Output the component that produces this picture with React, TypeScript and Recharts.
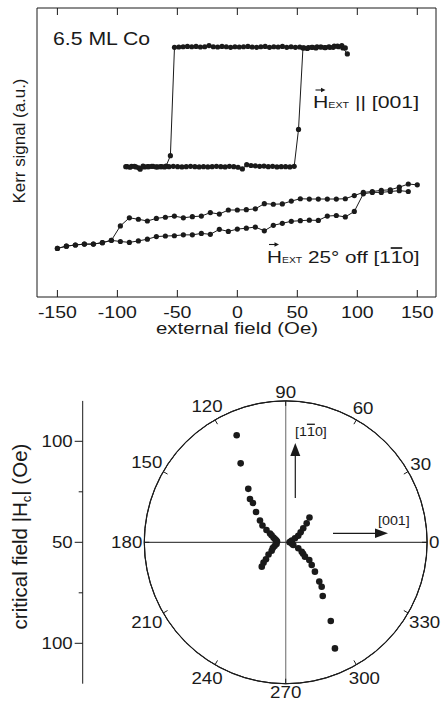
import React from "react";
import {
  ScatterChart,
  Scatter,
  XAxis,
  YAxis,
  LineChart,
  RadarChart,
  Radar,
  PolarGrid,
  PolarAngleAxis,
  PolarRadiusAxis,
} from "recharts";

const FONT = '"Liberation Sans", Arial, Helvetica, sans-serif';
const INK = "#1a1a1a";

// ---- top panel: Kerr loops (field in Oe, Kerr signal in arbitrary units) ----
const fieldTicks = [-150, -100, -50, 0, 50, 100, 150];

// H || [001], field swept down
const squareDown: [number, number][] = [
  [91.7, 8.41], [88, 8.62], [84.4, 8.66], [80.8, 8.68], [77.2, 8.64], [73.6, 8.63],
  [70, 8.65], [66.4, 8.66], [62.8, 8.64], [59.2, 8.63], [55.6, 8.62], [52, 8.65],
  [48.4, 8.64], [44.8, 8.66], [41.2, 8.64], [37.6, 8.67], [34, 8.65], [30.4, 8.66],
  [26.8, 8.64], [23.2, 8.67], [19.6, 8.66], [16, 8.64], [12.4, 8.65], [8.8, 8.67],
  [5.2, 8.66], [1.6, 8.65], [-2, 8.66], [-5.6, 8.64], [-9.2, 8.66], [-12.8, 8.67],
  [-16.4, 8.65], [-20, 8.66], [-23.6, 8.7], [-27.2, 8.66], [-30.8, 8.65], [-34.4, 8.67],
  [-38, 8.66], [-41.6, 8.67], [-45.2, 8.66], [-48.8, 8.65], [-52.4, 8.64], [-55.8, 4.89],
  [-59.4, 4.53], [-63, 4.51], [-66.6, 4.5], [-70.2, 4.52], [-73.8, 4.51], [-77.4, 4.5],
  [-81, 4.42], [-84.6, 4.5], [-88.2, 4.52], [-91.8, 4.51],
];

// H || [001], field swept up
const squareUp: [number, number][] = [
  [-93, 4.51], [-89.4, 4.49], [-85.8, 4.52], [-82.2, 4.47], [-78.6, 4.53], [-75, 4.51],
  [-71.4, 4.52], [-67.8, 4.5], [-64.2, 4.51], [-60.6, 4.5], [-57, 4.51], [-53.4, 4.52],
  [-49.8, 4.51], [-46.2, 4.5], [-42.6, 4.51], [-39, 4.52], [-35.4, 4.51], [-31.8, 4.5],
  [-28.2, 4.51], [-24.6, 4.5], [-21, 4.51], [-17.4, 4.52], [-13.8, 4.51], [-10.2, 4.5],
  [-6.6, 4.52], [-3, 4.51], [0.6, 4.49], [4.2, 4.43], [7.8, 4.58], [11.4, 4.55],
  [15, 4.54], [18.6, 4.52], [22.2, 4.53], [25.8, 4.51], [29.4, 4.52], [33, 4.5],
  [36.6, 4.51], [40.2, 4.51], [43.8, 4.5], [47.4, 4.52], [51, 5.8], [54.7, 8.62],
  [58.3, 8.6], [61.9, 8.64], [65.5, 8.62], [69.1, 8.65], [72.7, 8.63], [76.3, 8.66],
  [79.9, 8.64], [83.5, 8.68], [87.1, 8.7], [90, 8.62],
];

// H 25 deg off [1-10], field swept down
const tiltDown: [number, number][] = [
  [150, 3.88], [142.5, 3.91], [135, 3.8], [127.5, 3.71], [120, 3.69], [112.5, 3.65],
  [105, 3.62], [97.5, 3.51], [90, 3.4], [82.5, 3.39], [75, 3.39], [67.5, 3.39],
  [60, 3.39], [52.5, 3.4], [45, 3.32], [37.5, 3.22], [30, 3.21], [22.5, 3.23],
  [15, 3.05], [7.5, 3.02], [0, 3.01], [-7.5, 3.01], [-15, 2.87], [-22.5, 2.92],
  [-30, 2.8], [-37.5, 2.78], [-45, 2.74], [-52.5, 2.8], [-60, 2.76], [-67.5, 2.72],
  [-75, 2.63], [-82.5, 2.69], [-90, 2.74], [-97.5, 2.46], [-105, 1.96], [-112.5, 1.88],
  [-120, 1.83], [-127.5, 1.83], [-135, 1.8], [-142.5, 1.76], [-150, 1.68],
];

// H 25 deg off [1-10], field swept up
const tiltUp: [number, number][] = [
  [-150, 1.68], [-142.5, 1.76], [-135, 1.8], [-127.5, 1.83], [-120, 1.83], [-112.5, 1.88],
  [-105, 1.96], [-97.5, 1.92], [-90, 1.89], [-82.5, 1.94], [-75, 2.0], [-67.5, 2.09],
  [-60, 2.11], [-52.5, 2.12], [-45, 2.15], [-37.5, 2.15], [-30, 2.2], [-22.5, 2.17],
  [-15, 2.34], [-7.5, 2.27], [0, 2.35], [7.5, 2.38], [15, 2.42], [22.5, 2.29],
  [30, 2.48], [37.5, 2.55], [45, 2.62], [52.5, 2.64], [60, 2.66], [67.5, 2.65],
  [75, 2.8], [82.5, 2.82], [90, 2.77], [97.5, 2.96], [105, 3.57], [112.5, 3.62],
  [120, 3.62], [127.5, 3.65], [135, 3.68], [142.5, 3.65],
];

// ---- bottom panel: critical field vs. field angle (deg, Oe) ----
const hcPoints: [number, number][] = [
  [114.6, 108.3], [119.7, 95.0], [125.0, 82.3], [129.5, 77.8], [129.8, 75.3],
  [134.4, 71.0], [139.7, 66.7], [144.1, 64.2], [147.4, 61.3], [150.7, 58.9],
  [153.5, 57.8], [158.5, 56.5], [163.0, 55.6], [168.0, 54.8], [174.7, 54.3],
  [190.0, 54.6], [198.3, 55.8], [204.0, 57.0], [211.0, 58.1], [215.3, 60.4],
  [220.8, 62.9], [222.6, 64.9], [225.5, 66.9],
  [0.0, 51.9], [8.0, 52.5], [16.0, 53.2], [23.3, 55.0], [27.6, 57.0], [33.7, 58.9],
  [38.5, 61.1], [42.1, 64.0], [46.2, 67.0],
  [347.0, 53.2], [340.4, 54.0], [334.5, 56.9], [329.6, 59.2], [326.8, 60.3],
  [323.3, 61.9], [323.1, 64.6], [318.9, 67.1], [314.9, 70.5], [310.5, 75.6],
  [309.0, 78.3], [304.6, 82.3], [299.8, 94.9], [294.9, 107.9],
];
const angleTicks = [0, 30, 60, 90, 120, 150, 180, 210, 240, 270, 300, 330];
// left scale: offset from the 50 Oe centre
const hcTicks = [-50, -25, 0, 25, 50];
const hcTickLabels = ["100", "", "50", "", "100"];

const toRows = (pts: [number, number][]) => pts.map(([h, kerr]) => ({ h, kerr }));
const polarRows = hcPoints.map(([angle, hc]) => ({ angle, hc }));

// polar geometry (inside the bottom chart)
const PCX = 285.7;
const PCY = 187.3;
const PR = 141.4;

const WText = ({ x, y, size = 16, sx = 1.2, anchor = "middle", rotate = 0, base, length, children }: any) => (
  <text
    transform={`translate(${x},${y}) rotate(${rotate}) scale(${sx},1)`}
    x={0}
    y={0}
    fontSize={size}
    fontFamily={FONT}
    textAnchor={anchor}
    dominantBaseline={base}
    textLength={length}
    lengthAdjust={length ? "spacingAndGlyphs" : undefined}
    fill={INK}
  >
    {children}
  </text>
);

const FieldTick = ({ x, y, payload }: any) => (
  <g>
    <line x1={x} x2={x} y1={y} y2={y - 7} stroke={INK} />
    <WText x={x} y={y + 20.5} size={16} sx={1.22}>
      {payload.value}
    </WText>
  </g>
);

const TopTick = ({ x, y }: any) => <line x1={x} x2={x} y1={y} y2={y + 7} stroke={INK} />;

const VecArrow = ({ x, y, w }: any) => (
  <g>
    <line x1={x} x2={x + w - 3} y1={y} y2={y} stroke={INK} strokeWidth={1.1} />
    <path d={`M${x + w},${y} L${x + w - 4.5},${y - 2.2} L${x + w - 4.5},${y + 2.2} Z`} fill={INK} />
  </g>
);

const LoopDot = (p: any) => <circle cx={p.cx} cy={p.cy} r={2.6} fill={INK} />;

function KerrLoops() {
  return (
    <ScatterChart width={444} height={345} margin={{ top: 7, right: 7, bottom: 8, left: 0 }}>
      <XAxis
        xAxisId="b"
        type="number"
        dataKey="h"
        domain={[-167, 165.6]}
        ticks={fieldTicks}
        interval={0}
        height={40}
        tickSize={0}
        tickMargin={0}
        tickLine={false}
        axisLine={{ stroke: INK }}
        tick={FieldTick}
        allowDataOverflow
      />
      <XAxis
        xAxisId="t"
        orientation="top"
        type="number"
        dataKey="h"
        domain={[-167, 165.6]}
        ticks={fieldTicks}
        interval={0}
        height={1}
        tickSize={0}
        tickMargin={0}
        tickLine={false}
        axisLine={{ stroke: INK }}
        tick={TopTick}
        allowDataOverflow
      />
      <YAxis yAxisId="l" type="number" dataKey="kerr" domain={[0, 10]} width={37} tick={false} tickLine={false} axisLine={{ stroke: INK }} allowDataOverflow />
      <YAxis yAxisId="r" orientation="right" type="number" dataKey="kerr" domain={[0, 10]} width={1} tick={false} tickLine={false} axisLine={{ stroke: INK }} allowDataOverflow />
      {[squareDown, squareUp].map((s, i) => (
        <Scatter
          key={`sq${i}`}
          xAxisId="t"
          yAxisId="r"
          data={toRows(s)}
          line={{ stroke: INK, strokeWidth: 1 }}
          lineType="joint"
          shape={LoopDot}
          isAnimationActive={false}
        />
      ))}
      {[tiltDown, tiltUp].map((s, i) => (
        <Scatter
          key={`tl${i}`}
          xAxisId="b"
          yAxisId="l"
          data={toRows(s)}
          line={{ stroke: INK, strokeWidth: 1 }}
          lineType="joint"
          shape={LoopDot}
          isAnimationActive={false}
        />
      ))}
      <WText x={53} y={45} size={18} sx={1.18} anchor="start">6.5 ML Co</WText>
      <VecArrow x={315.5} y={90} w={10} />
      <WText x={313} y={108.3} size={17} sx={1.25} anchor="start">
        H<tspan fontSize={8.5}>EXT</tspan> || [001]
      </WText>
      <VecArrow x={269} y={244.5} w={10} />
      <WText x={267} y={263.3} size={17} sx={1.22} anchor="start">
        H<tspan fontSize={8.5}>EXT</tspan> 25° off [1<tspan style={{ textDecoration: "overline" }}>1</tspan>0]
      </WText>
      <WText x={237} y={333.5} size={17} sx={1.2}>external field (Oe)</WText>
      <WText x={25} y={141} size={17} sx={1} rotate={-90} length={125}>Kerr signal (a.u.)</WText>
    </ScatterChart>
  );
}

const HcTick = ({ x, y, index }: any) => {
  const label = hcTickLabels[index];
  return (
    <g>
      <line x1={x} x2={x - (label ? 8 : 4)} y1={y} y2={y} stroke={INK} />
      {label ? (
        <WText x={x - 10} y={y} size={17} sx={1.1} anchor="end" base="central">
          {label}
        </WText>
      ) : null}
    </g>
  );
};

function HcScale() {
  return (
    <LineChart width={100} height={356} margin={{ top: 45.9, right: 0, bottom: 27.3, left: 0 }}>
      <XAxis hide />
      <YAxis
        type="number"
        domain={[-70, 70]}
        ticks={hcTicks}
        interval={0}
        width={82.7}
        tickSize={0}
        tickMargin={0}
        tickLine={false}
        axisLine={{ stroke: INK }}
        tick={HcTick}
        allowDataOverflow
      />
      <WText x={26.5} y={181.5} size={20.5} sx={1} rotate={-90}>
        critical field |H<tspan fontSize={13} dy={4}>c</tspan>
        <tspan dy={-4}>| (Oe)</tspan>
      </WText>
    </LineChart>
  );
}

const AngleTick = ({ payload }: any) => {
  const a = payload.value;
  if (a >= 360) return <g />;
  const rad = (a * Math.PI) / 180;
  const c = Math.cos(rad);
  const s = Math.sin(rad);
  const label = String(a);
  const rl = PR + 2 + label.length * 5.2 * Math.abs(c) + 7 * Math.abs(s);
  return (
    <g>
      <line x1={PCX + (PR - 5) * c} y1={PCY - (PR - 5) * s} x2={PCX + PR * c} y2={PCY - PR * s} stroke={INK} />
      <WText x={PCX + rl * c} y={PCY - rl * s} size={17} sx={1.1} base="central">
        {label}
      </WText>
    </g>
  );
};

const HcDot = (p: any) => <circle cx={p.cx} cy={p.cy} r={3.3} fill={INK} />;

function CriticalField() {
  return (
    <RadarChart
      width={444}
      height={356}
      data={polarRows}
      cx={PCX}
      cy={PCY}
      outerRadius={PR}
      startAngle={0}
      endAngle={360}
      margin={{ top: 0, right: 0, bottom: 0, left: 0 }}
    >
      <PolarGrid gridType="circle" polarAngles={[90, 270]} polarRadius={[PR]} stroke="#8a8a8a" strokeWidth={1.3} />
      <PolarGrid gridType="circle" polarAngles={[0, 180]} polarRadius={[PR]} stroke={INK} />
      <PolarAngleAxis
        dataKey="angle"
        type="number"
        domain={[0, 360]}
        ticks={angleTicks as any}
        tickCount={13}
        axisLineType="circle"
        axisLine={{ stroke: INK }}
        tickLine={false}
        tick={AngleTick}
      />
      <PolarRadiusAxis type="number" domain={[50, 120]} tick={false} axisLine={false} />
      <Radar dataKey="hc" stroke="none" fill="none" dot={HcDot} isAnimationActive={false} />
      <line x1={295.3} x2={295.3} y1={143} y2={100} stroke={INK} strokeWidth={1.2} />
      <path d="M295.3,88 L290.3,101 L300.3,101 Z" fill={INK} />
      <WText x={295} y={81} size={13} sx={1.1} anchor="start">
        [1<tspan style={{ textDecoration: "overline" }}>1</tspan>0]
      </WText>
      <line x1={333} x2={377} y1={178.3} y2={178.3} stroke={INK} strokeWidth={1.2} />
      <path d="M388,178.3 L375,173.6 L375,183 Z" fill={INK} />
      <WText x={378} y={170} size={13} sx={1.1} anchor="start">[001]</WText>
    </RadarChart>
  );
}

export default function App() {
  return (
    <div style={{ position: "absolute", left: 0, top: 0, width: 444, height: 711, background: "#fff" }}>
      <div style={{ position: "absolute", left: 0, top: 0 }}>
        <KerrLoops />
      </div>
      <div style={{ position: "absolute", left: 0, top: 355 }}>
        <HcScale />
      </div>
      <div style={{ position: "absolute", left: 0, top: 355 }}>
        <CriticalField />
      </div>
    </div>
  );
}
